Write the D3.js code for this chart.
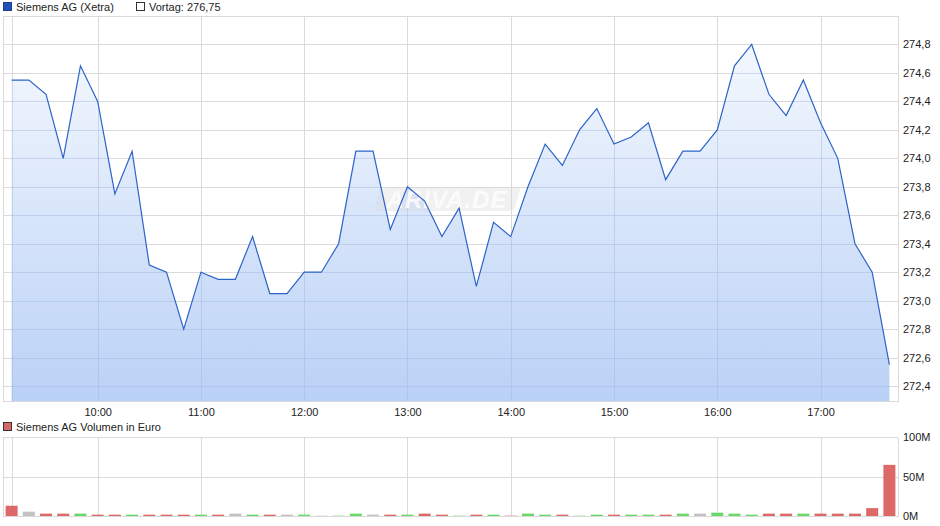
<!DOCTYPE html>
<html><head><meta charset="utf-8">
<script src="https://cdn.jsdelivr.net/npm/d3@7"></script>
<style>
html,body{margin:0;padding:0;background:#fff;}
svg{display:block;font-family:"Liberation Sans",Arial,sans-serif;}
</style></head>
<body>
<svg id="c" width="940" height="526"></svg>
<script>
// ---- data ----
const startTime = "09:10";      // first quote, 10-minute steps
const stepMinutes = 10;
const prices = [274.55,274.55,274.45,274.0,274.65,274.4,273.75,274.05,273.25,273.2,
  272.8,273.2,273.15,273.15,273.45,273.05,273.05,273.2,273.2,273.4,
  274.05,274.05,273.5,273.8,273.7,273.45,273.65,273.1,273.55,273.45,
  273.8,274.1,273.95,274.2,274.35,274.1,274.15,274.25,273.85,274.05,
  274.05,274.2,274.65,274.8,274.45,274.3,274.55,274.25,274.0,273.4,
  273.2,272.55];
const volumes = [13,5.5,3,3,3,1.7,1.7,1.7,1.7,1.7,
  1.7,1.7,1.7,3,1.7,1.7,1.7,1.7,0.4,0.4,
  3,1.7,1.7,1.7,3,1.7,0.4,1.7,1.7,0.4,
  3,1.7,1.7,0.4,1.7,1.7,1.7,1.7,1.7,3,
  3,4.2,3,1.7,3,3,3,3,3,3,
  10,65];
const volColors = ["r","g0","r","r","g","r","r","g","r","r",
  "r","g","r","g0","g","r","g0","g","g0","g",
  "g","g0","r","g","r","r","g","r","g","r",
  "g","g","r","g","g","r","g","g","r","g",
  "g0","g","g","g","r","r","g","r","r","r",
  "r","r"];
const priceTicks = [272.4,272.6,272.8,273.0,273.2,273.4,273.6,273.8,274.0,274.2,274.4,274.6,274.8];
const hourTicks = ["10:00","11:00","12:00","13:00","14:00","15:00","16:00","17:00"];
const volTicks = [0,50,100];
const legendMain = "Siemens AG (Xetra)";
const legendPrev = "Vortag: 276,75";
const legendVol = "Siemens AG Volumen in Euro";

// ---- helpers ----
const parseT = d3.timeParse("%H:%M");
const t0 = parseT(startTime);
const times = prices.map((_, i) => new Date(t0.getTime() + i * stepMinutes * 60000));
const fmtNum = v => v.toFixed(1).replace(".", ",");

const svg = d3.select("#c");
const L = 3, R = 898;
const x = d3.scaleTime().domain([parseT("09:05"), parseT("17:45")]).range([L, R]);
const y = d3.scaleLinear().domain([272.295, 275.0]).range([401, 16]);
const yv = d3.scaleLinear().domain([0, 100]).range([516, 437.3]);
const gridCol = "#dadada";

// defs
const defs = svg.append("defs");
const grad = defs.append("linearGradient").attr("id", "fillg").attr("x1", 0).attr("y1", 0).attr("x2", 0).attr("y2", 1);
grad.append("stop").attr("offset", "0%").attr("stop-color", "#f4f8fe");
grad.append("stop").attr("offset", "100%").attr("stop-color", "#bad1f6");

// ---- legend ----
function legend(yTop, color, label, xx, stroke) {
  svg.append("rect").attr("x", xx + 0.5).attr("y", yTop + 0.5).attr("width", 8).attr("height", 8)
    .attr("fill", color).attr("stroke", stroke || "#333").attr("stroke-width", 1);
  svg.append("text").attr("x", xx + 13).attr("y", yTop + 8.5).attr("font-size", 11).attr("fill", "#222").text(label);
}
legend(2, "#1f51b8", legendMain, 3, "#1a3f8c");
legend(2, "#ffffff", legendPrev, 136, "#333");
legend(422, "#d96666", legendVol, 3, "#333");

// ---- main chart grid ----
const gMain = svg.append("g");
const hourDates = hourTicks.map(parseT);
const vGrid = [t0, ...hourDates];
function drawGrid(g, col, op, xEnd) {
  g.append("g").selectAll("line").data(priceTicks).join("line")
    .attr("x1", L).attr("x2", xEnd).attr("y1", d => Math.round(y(d)) + 0.5).attr("y2", d => Math.round(y(d)) + 0.5)
    .attr("stroke", col).attr("stroke-opacity", op);
  g.append("g").selectAll("line").data(vGrid).join("line")
    .attr("x1", d => Math.round(x(d)) + 0.5).attr("x2", d => Math.round(x(d)) + 0.5)
    .attr("y1", 16).attr("y2", 401).attr("stroke", col).attr("stroke-opacity", op);
}
drawGrid(gMain, gridCol, 1, R);
gMain.append("rect").attr("x", L + 0.5).attr("y", 16.5).attr("width", R - L).attr("height", 401 - 16)
  .attr("fill", "none").attr("stroke", gridCol);

// area
const area = d3.area().x((d, i) => x(times[i])).y0(401).y1(d => y(d));
gMain.append("path").datum(prices).attr("d", area).attr("fill", "url(#fillg)");
// gridlines showing through the area
defs.append("clipPath").attr("id", "areaClip").append("path").datum(prices).attr("d", area);
const gOver = gMain.append("g").attr("clip-path", "url(#areaClip)");
drawGrid(gOver, "#9fb6db", 0.45, R);
gOver.append("line").attr("x1", L + 0.5).attr("x2", L + 0.5).attr("y1", 16).attr("y2", 401).attr("stroke", "#9fb6db").attr("stroke-opacity", 0.45);

// watermark
const wm = gMain.append("g").attr("transform", "translate(447,199)");
wm.append("path").attr("d", "M-62,-12 L70,-12 Q74,-12 73,-8 L68,8 Q67,12 63,12 L-69,12 Q-73,12 -72,8 L-67,-8 Q-66,-12 -62,-12 Z")
  .attr("fill", "#d8d8d8").attr("fill-opacity", 0.35);
wm.append("text").attr("text-anchor", "middle").attr("y", 9).attr("font-size", 24).attr("font-style", "italic")
  .attr("font-weight", "bold").attr("fill", "#ffffff").attr("fill-opacity", 0.8).attr("letter-spacing", 1).text("ARIVA.DE");

const line = d3.line().x((d, i) => x(times[i])).y(d => y(d));
gMain.append("path").datum(prices).attr("d", line).attr("fill", "none").attr("stroke", "#2d63c8").attr("stroke-width", 1.2);

// right axis
const yAxis = d3.axisRight(y).tickValues(priceTicks).tickFormat(fmtNum).tickSize(0).tickPadding(5);
const ya = svg.append("g").attr("transform", `translate(${R},0)`).call(yAxis);
ya.select(".domain").attr("stroke", gridCol);
ya.selectAll("text").attr("font-size", 11).attr("fill", "#222").attr("font-family", "Liberation Sans, Arial, sans-serif");

// bottom axis
const xAxis = d3.axisBottom(x).tickValues(hourDates).tickFormat(d3.timeFormat("%H:%M")).tickSize(0).tickPadding(7);
const xa = svg.append("g").attr("transform", "translate(0,401)").call(xAxis);
xa.select(".domain").attr("stroke", gridCol);
xa.selectAll("text").attr("font-size", 11).attr("fill", "#222").attr("font-family", "Liberation Sans, Arial, sans-serif");

// ---- volume chart ----
const gVol = svg.append("g");
gVol.selectAll("line.vh").data(volTicks).join("line")
  .attr("x1", L).attr("x2", R).attr("y1", d => Math.round(yv(d)) + 0.5).attr("y2", d => Math.round(yv(d)) + 0.5)
  .attr("stroke", gridCol);
gVol.selectAll("line.vv").data(vGrid).join("line")
  .attr("x1", d => Math.round(x(d)) + 0.5).attr("x2", d => Math.round(x(d)) + 0.5)
  .attr("y1", 437).attr("y2", 516).attr("stroke", gridCol);
gVol.append("line").attr("x1", L + 0.5).attr("x2", L + 0.5).attr("y1", 437).attr("y2", 516).attr("stroke", gridCol);
const colMap = { r: "#dc6868", g: "#68d868", g0: "#c2c2c2" };
gVol.selectAll("rect.bar").data(volumes).join("rect")
  .attr("x", (d, i) => x(times[i]) - 6).attr("width", 12)
  .attr("y", d => yv(d)).attr("height", d => Math.max(0, yv(0) - yv(d)))
  .attr("fill", (d, i) => colMap[volColors[i]]);
const vAxis = d3.axisRight(yv).tickValues(volTicks).tickFormat(d => d + "M").tickSize(0).tickPadding(5);
const va = svg.append("g").attr("transform", `translate(${R},0)`).call(vAxis);
va.select(".domain").attr("stroke", gridCol);
va.selectAll("text").attr("font-size", 11).attr("fill", "#222").attr("font-family", "Liberation Sans, Arial, sans-serif");
</script>
</body></html>
